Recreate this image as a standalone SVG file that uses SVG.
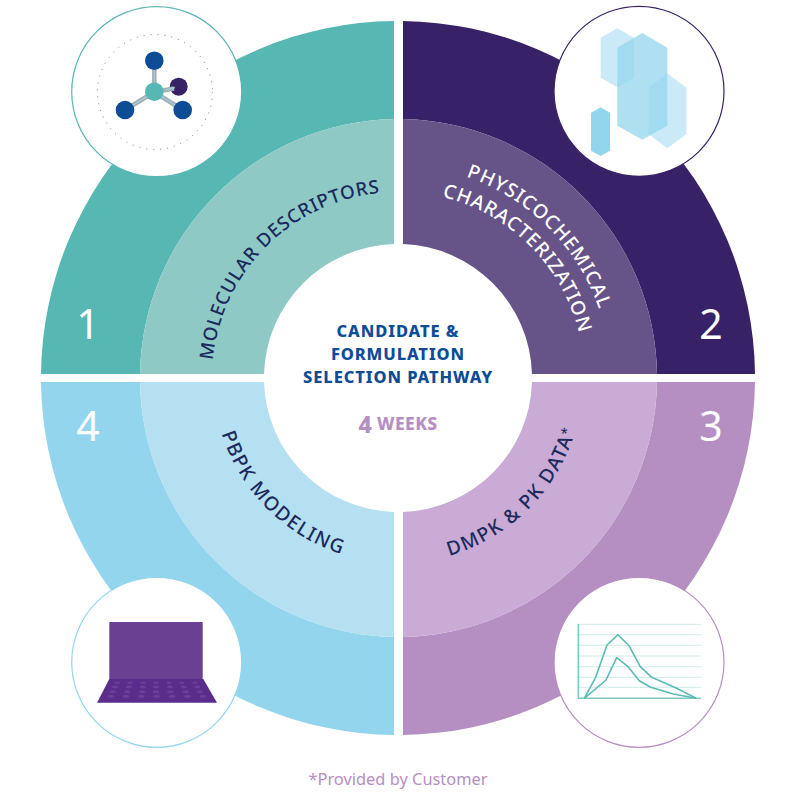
<svg xmlns="http://www.w3.org/2000/svg" width="795" height="795" viewBox="0 0 795 795">
<style>
text{font-family:"Noto Sans","Open Sans","Liberation Sans",sans-serif}
.lab{font-size:18.700px;font-weight:500;fill:#1b2a5c;letter-spacing:.8px}
.lab3{font-size:19.400px;font-weight:500;fill:#1b2a5c;letter-spacing:1.500px}
.lab2{font-size:19.400px;font-weight:500;fill:#fff;letter-spacing:1px}
.num{font-size:41px;fill:#fff;font-weight:400;text-anchor:middle}
.ctr{font-size:16.500px;font-weight:800;fill:#0e4c96;text-anchor:middle;letter-spacing:.9px}
.icon{fill:#fff;stroke-width:1.200}
.k{fill:#6a3f98}
.g{stroke:#cfeaea;stroke-width:1;fill:none}
.c{stroke:#5cbab5;stroke-width:1.600;fill:none;stroke-linejoin:round}
.b{stroke:#a9adb3;stroke-width:4.500}
.bi{stroke:#9ccfe0;stroke-width:1.200}
</style>
<defs>
<path id="p1" d="M212,378A186,186 0 0 1 398,192"/>
<path id="p2a" d="M398,165.500A212.500,212.500 0 0 1 610.500,378"/>
<path id="p2b" d="M398,191.500A186.500,186.500 0 0 1 584.500,378"/>
<path id="p3" d="M398,563A185,185 0 0 0 583,378"/>
<path id="p4" d="M213,378A185,185 0 0 0 398,563"/>
</defs>
<g id="ring">
<path fill="#57b7b3" d="M41,374A357,357 0 0 1 394,21V119A259,259 0 0 0 140,374Z"/>
<path fill="#8fc9c6" d="M140,374A259,259 0 0 1 394,119V244A134,134 0 0 0 264,374Z"/>
<path fill="#382267" d="M755,374A357,357 0 0 0 403,21V119A259,259 0 0 1 657,374Z"/>
<path fill="#665388" d="M657,374A259,259 0 0 0 403,119V244A134,134 0 0 1 532,374Z"/>
<path fill="#b68fc2" d="M755,382A357,357 0 0 1 403,735V637A259,259 0 0 0 657,382Z"/>
<path fill="#c9abd5" d="M657,382A259,259 0 0 1 403,637V512A134,134 0 0 0 532,382Z"/>
<path fill="#94d5ee" d="M41,382A357,357 0 0 0 394,735V637A259,259 0 0 1 140,382Z"/>
<path fill="#b5e0f1" d="M140,382A259,259 0 0 0 394,637V512A134,134 0 0 1 264,382Z"/>
</g>
<g id="labels">
<text class="lab"><textPath href="#p1" startOffset="50%" text-anchor="middle">MOLECULAR DESCRIPTORS</textPath></text>
<text class="lab2"><textPath href="#p2a" startOffset="50%" text-anchor="middle">PHYSICOCHEMICAL</textPath></text>
<text class="lab2"><textPath href="#p2b" startOffset="50%" text-anchor="middle">CHARACTERIZATION</textPath></text>
<text class="lab3"><textPath href="#p3" startOffset="50%" text-anchor="middle">DMPK &amp; PK DATA<tspan font-size="13" dy="-4">*</tspan></textPath></text>
<text class="lab3"><textPath href="#p4" startOffset="50%" text-anchor="middle">PBPK MODELING</textPath></text>
<text class="num" x="88" y="339">1</text>
<text class="num" x="711" y="339">2</text>
<text class="num" x="711" y="441">3</text>
<text class="num" x="88" y="441">4</text>
</g>
<g id="center">
<text class="ctr" x="398" y="337">CANDIDATE &amp;</text>
<text class="ctr" x="398" y="360">FORMULATION</text>
<text class="ctr" x="398" y="383">SELECTION PATHWAY</text>
<text x="398" y="430" style="font-size:17.500px;font-weight:800;fill:#b68fc2;text-anchor:middle;letter-spacing:.4px"><tspan font-size="23" dy="3">4</tspan><tspan dy="-3"> WEEKS</tspan></text>
</g>
<g id="node-molecule">
<circle class="icon" cx="156.700" cy="91.700" r="85" stroke="#57b7b3"/>
<circle cx="155" cy="92" r="57.500" fill="none" stroke="#5b5a96" stroke-width="1" stroke-dasharray="1 6" opacity=".8"/>
<circle cx="178.700" cy="86.700" r="9" fill="#382267"/>
<line class="b" x1="154.300" y1="92" x2="174" y2="88.500"/>
<line class="bi" x1="165" y1="90" x2="175" y2="87.700"/>
<g class="b"><line x1="154.300" y1="92" x2="154.300" y2="61"/><line x1="154.300" y1="92" x2="125" y2="110"/><line x1="154.300" y1="92" x2="182.700" y2="110"/></g>
<g class="bi"><line x1="154.300" y1="92" x2="154.300" y2="61"/><line x1="154.300" y1="92" x2="125" y2="110"/><line x1="154.300" y1="92" x2="182.700" y2="110"/></g>
<circle cx="154.300" cy="60.700" r="9.300" fill="#0e4c96"/>
<circle cx="125" cy="110" r="9.300" fill="#0e4c96"/>
<circle cx="182.700" cy="110" r="9.300" fill="#0e4c96"/>
<circle cx="154.300" cy="91.700" r="9.300" fill="#57b7b3"/>
</g>
<g id="node-crystals">
<circle class="icon" cx="639" cy="91.300" r="85" stroke="#382267"/>
<g fill="#94d5ee">
<polygon opacity=".5" points="600.7,37.7 617.3,28.3 634,37.7 634,77.7 617.3,87.3 600.7,77.7"/>
<polygon opacity=".75" points="617.3,47.7 642.3,33 667.3,47.7 667.3,125.7 642.3,139.7 617.3,125.7"/>
<polygon opacity=".5" points="667.3,73.3 686.3,87.7 686.3,134.3 667.3,148.3 648.7,134.3 648.7,87.7"/>
<polygon points="600.7,107.3 610,112.7 610,150.7 600.7,156 591,150.7 591,112.7"/>
</g>
</g>
<g id="node-chart">
<circle class="icon" cx="639" cy="662.300" r="85" stroke="#b68fc2"/>
<path class="g" d="M577.3,624.3H701M577.3,634.7H701M577.3,645.3H701M577.3,656H701M577.3,666.7H701M577.3,677.3H701M577.3,687.3H701"/>
<path d="M578.3,624V698.3H701" fill="none" stroke="#7fc9c5" stroke-width="1.500"/>
<polyline class="c" points="584.3,698.3 595.7,677.3 607,645 618,634.7 629,645.7 640.3,666.7 651.7,677.3 676.7,688.3 696,698.3"/>
<polyline class="c" points="584.3,698.3 606,680 616.7,657.7 628,666.7 639.3,680.7 650.7,687.3 673.3,694 696,698.3"/>
</g>
<g id="node-laptop">
<circle class="icon" cx="156.700" cy="662.300" r="85" stroke="#94d5ee"/>
<rect x="109.300" y="622" width="93.400" height="57" fill="#6a4192"/>
<polygon points="109.3,679 203.3,679 217,702.7 97,702.7" fill="#5a2d8c"/>
<g class="k">
<ellipse cx="117.3" cy="682.7" rx="2.8" ry="1.3"/><ellipse cx="130" cy="682.7" rx="2.8" ry="1.3"/><ellipse cx="143.3" cy="682.7" rx="2.8" ry="1.3"/><ellipse cx="156" cy="682.7" rx="2.8" ry="1.3"/><ellipse cx="169" cy="682.7" rx="2.8" ry="1.3"/><ellipse cx="181.7" cy="682.7" rx="2.8" ry="1.3"/><ellipse cx="195" cy="682.7" rx="2.8" ry="1.3"/>
<ellipse cx="115" cy="687" rx="3" ry="1.4"/><ellipse cx="129" cy="687" rx="3" ry="1.4"/><ellipse cx="142.7" cy="687" rx="3" ry="1.4"/><ellipse cx="156" cy="687" rx="3" ry="1.4"/><ellipse cx="169.7" cy="687" rx="3" ry="1.4"/><ellipse cx="183.7" cy="687" rx="3" ry="1.4"/><ellipse cx="197.3" cy="687" rx="3" ry="1.4"/>
<ellipse cx="112.7" cy="691.7" rx="3.2" ry="1.5"/><ellipse cx="127.3" cy="691.7" rx="3.2" ry="1.5"/><ellipse cx="142.3" cy="691.7" rx="3.2" ry="1.5"/><ellipse cx="156" cy="691.7" rx="3.2" ry="1.5"/><ellipse cx="170.3" cy="691.7" rx="3.2" ry="1.5"/><ellipse cx="185.7" cy="691.7" rx="3.2" ry="1.5"/><ellipse cx="200" cy="691.7" rx="3.2" ry="1.5"/>
<ellipse cx="110.7" cy="696.3" rx="3.4" ry="1.6"/><ellipse cx="126" cy="696.3" rx="3.4" ry="1.6"/><ellipse cx="141.3" cy="696.3" rx="3.4" ry="1.6"/><ellipse cx="156.7" cy="696.3" rx="3.4" ry="1.6"/><ellipse cx="172" cy="696.3" rx="3.4" ry="1.6"/><ellipse cx="187.7" cy="696.3" rx="3.4" ry="1.6"/><ellipse cx="203" cy="696.3" rx="3.4" ry="1.6"/>
</g>
</g>
<text x="398" y="785" style="font-size:16.400px;fill:#b68fc2;text-anchor:middle">*Provided by Customer</text>
</svg>
